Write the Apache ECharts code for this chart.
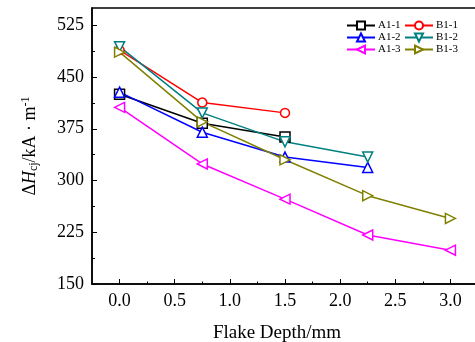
<!DOCTYPE html>
<html>
<head>
<meta charset="utf-8">
<script src="https://cdn.jsdelivr.net/npm/echarts@6/dist/echarts.min.js"></script>
<style>
  html, body { margin: 0; padding: 0; background: #fff; }
  #chart { width: 475px; height: 342px; }
</style>
</head>
<body>
<div id="chart"></div>
<script>
// flake depth (mm)
const depthA1 = [0, 0.75, 1.5];
const depthB1 = [0, 0.75, 1.5];
const depthA2 = [0, 0.75, 1.5, 2.25];
const depthB2 = [0, 0.75, 1.5, 2.25];
const depthA3 = [0, 0.75, 1.5, 2.25, 3.0];
const depthB3 = [0, 0.75, 1.5, 2.25, 3.0];

// ΔHcj (kA/m)
const a11 = [425, 383, 363];
const b11 = [489, 413, 398];
const a12 = [428, 370, 334, 319];
const b12 = [494, 398, 356, 334];
const a13 = [406, 324, 273, 221, 199];
const b13 = [486, 385, 330, 278, 245];

const xMajor = [0, 0.5, 1, 1.5, 2, 2.5, 3];
const xMinor = [0.25, 0.75, 1.25, 1.75, 2.25, 2.75];
const yMajor = [150, 225, 300, 375, 450, 525];
const yMinor = [187.5, 262.5, 337.5, 412.5, 487.5];

const FONT = "Liberation Serif";

function pts(xs, ys) {
  return xs.map((x, i) => [x, ys[i]]);
}

function mkSeries(name, xs, ys, color, symbol, rotate) {
  return {
    name: name,
    type: "line",
    data: pts(xs, ys),
    symbol: symbol,
    symbolSize: symbol === "circle" ? 9 : 10,
    symbolRotate: rotate || 0,
    lineStyle: { color: color, width: 1.5 },
    itemStyle: { color: "#fff", borderColor: color, borderWidth: 1.5 },
    emphasis: { disabled: true },
  };
}

const chart = echarts.init(document.getElementById("chart"));

const legendBase = {
  orient: "vertical",
  top: 15,
  itemWidth: 28,
  itemHeight: 10,
  itemGap: 1,
  textStyle: { fontFamily: FONT, fontSize: 11, color: "#000", padding: [0, 0, 0, -2] },
};

chart.setOption({
  animation: false,
  backgroundColor: "#fff",
  grid: {
    left: 92,
    top: 8,
    width: 386,
    height: 276,
    outerBoundsMode: "none",
    containLabel: false,
    show: true,
    borderColor: "#000",
    borderWidth: 1.5,
    backgroundColor: "transparent",
  },
  legend: [
    Object.assign({}, legendBase, { left: 341, data: ["A1-1", "A1-2", "A1-3"] }),
    Object.assign({}, legendBase, { left: 399, data: ["B1-1", "B1-2", "B1-3"] }),
  ],
  xAxis: [
    {
      type: "value",
      min: -0.25,
      max: 3.25,
      name: "Flake Depth/mm",
      nameLocation: "middle",
      nameGap: 40,
      nameTextStyle: { fontFamily: FONT, fontSize: 19, color: "#000", padding: [0, 16, 0, 0] },
      axisLine: { show: true, onZero: false, lineStyle: { color: "#000", width: 1.5 } },
      axisTick: { show: true, inside: true, length: 5, customValues: xMajor, lineStyle: { color: "#000", width: 1 } },
      axisLabel: {
        customValues: xMajor,
        fontFamily: FONT,
        fontSize: 18,
        color: "#000",
        margin: 8,
        formatter: (v) => v.toFixed(1),
      },
      splitLine: { show: false },
    },
    {
      type: "value",
      min: -0.25,
      max: 3.25,
      position: "bottom",
      axisLine: { show: false, onZero: false },
      axisTick: { show: true, inside: true, length: 2.5, customValues: xMinor, lineStyle: { color: "#000", width: 1 } },
      axisLabel: { show: false },
      splitLine: { show: false },
    },
  ],
  yAxis: [
    {
      type: "value",
      min: 150,
      max: 550,
      name: "{n|Δ}{i|H}{s|cj}{n|/kA · m}{p|-1}",
      nameLocation: "middle",
      nameGap: 52,
      nameTextStyle: {
        rich: {
          n: { fontFamily: FONT, fontSize: 18, color: "#000" },
          i: { fontFamily: FONT, fontSize: 18, fontStyle: "italic", color: "#000" },
          s: { fontFamily: FONT, fontSize: 12, color: "#000", verticalAlign: "bottom", padding: [8, 0, 0, 0] },
          p: { fontFamily: FONT, fontSize: 12, color: "#000", verticalAlign: "top", padding: [0, 0, 8, 0] },
        },
      },
      axisLine: { show: true, onZero: false, lineStyle: { color: "#000", width: 1.5 } },
      axisTick: { show: true, inside: true, length: 5, customValues: yMajor, lineStyle: { color: "#000", width: 1 } },
      axisLabel: {
        customValues: yMajor,
        fontFamily: FONT,
        fontSize: 18,
        color: "#000",
        margin: 8,
      },
      splitLine: { show: false },
    },
    {
      type: "value",
      min: 150,
      max: 550,
      position: "left",
      axisLine: { show: false, onZero: false },
      axisTick: { show: true, inside: true, length: 3, customValues: yMinor, lineStyle: { color: "#000", width: 1 } },
      axisLabel: { show: false },
      splitLine: { show: false },
    },
  ],
  series: [
    mkSeries("A1-1", depthA1, a11, "#000000", "rect"),
    mkSeries("B1-1", depthB1, b11, "#ff0000", "circle"),
    mkSeries("A1-2", depthA2, a12, "#0000ff", "triangle"),
    mkSeries("B1-2", depthB2, b12, "#008080", "triangle", 180),
    mkSeries("A1-3", depthA3, a13, "#ff00ff", "triangle", 90),
    mkSeries("B1-3", depthB3, b13, "#808000", "triangle", -90),
  ],
});
</script>
</body>
</html>
